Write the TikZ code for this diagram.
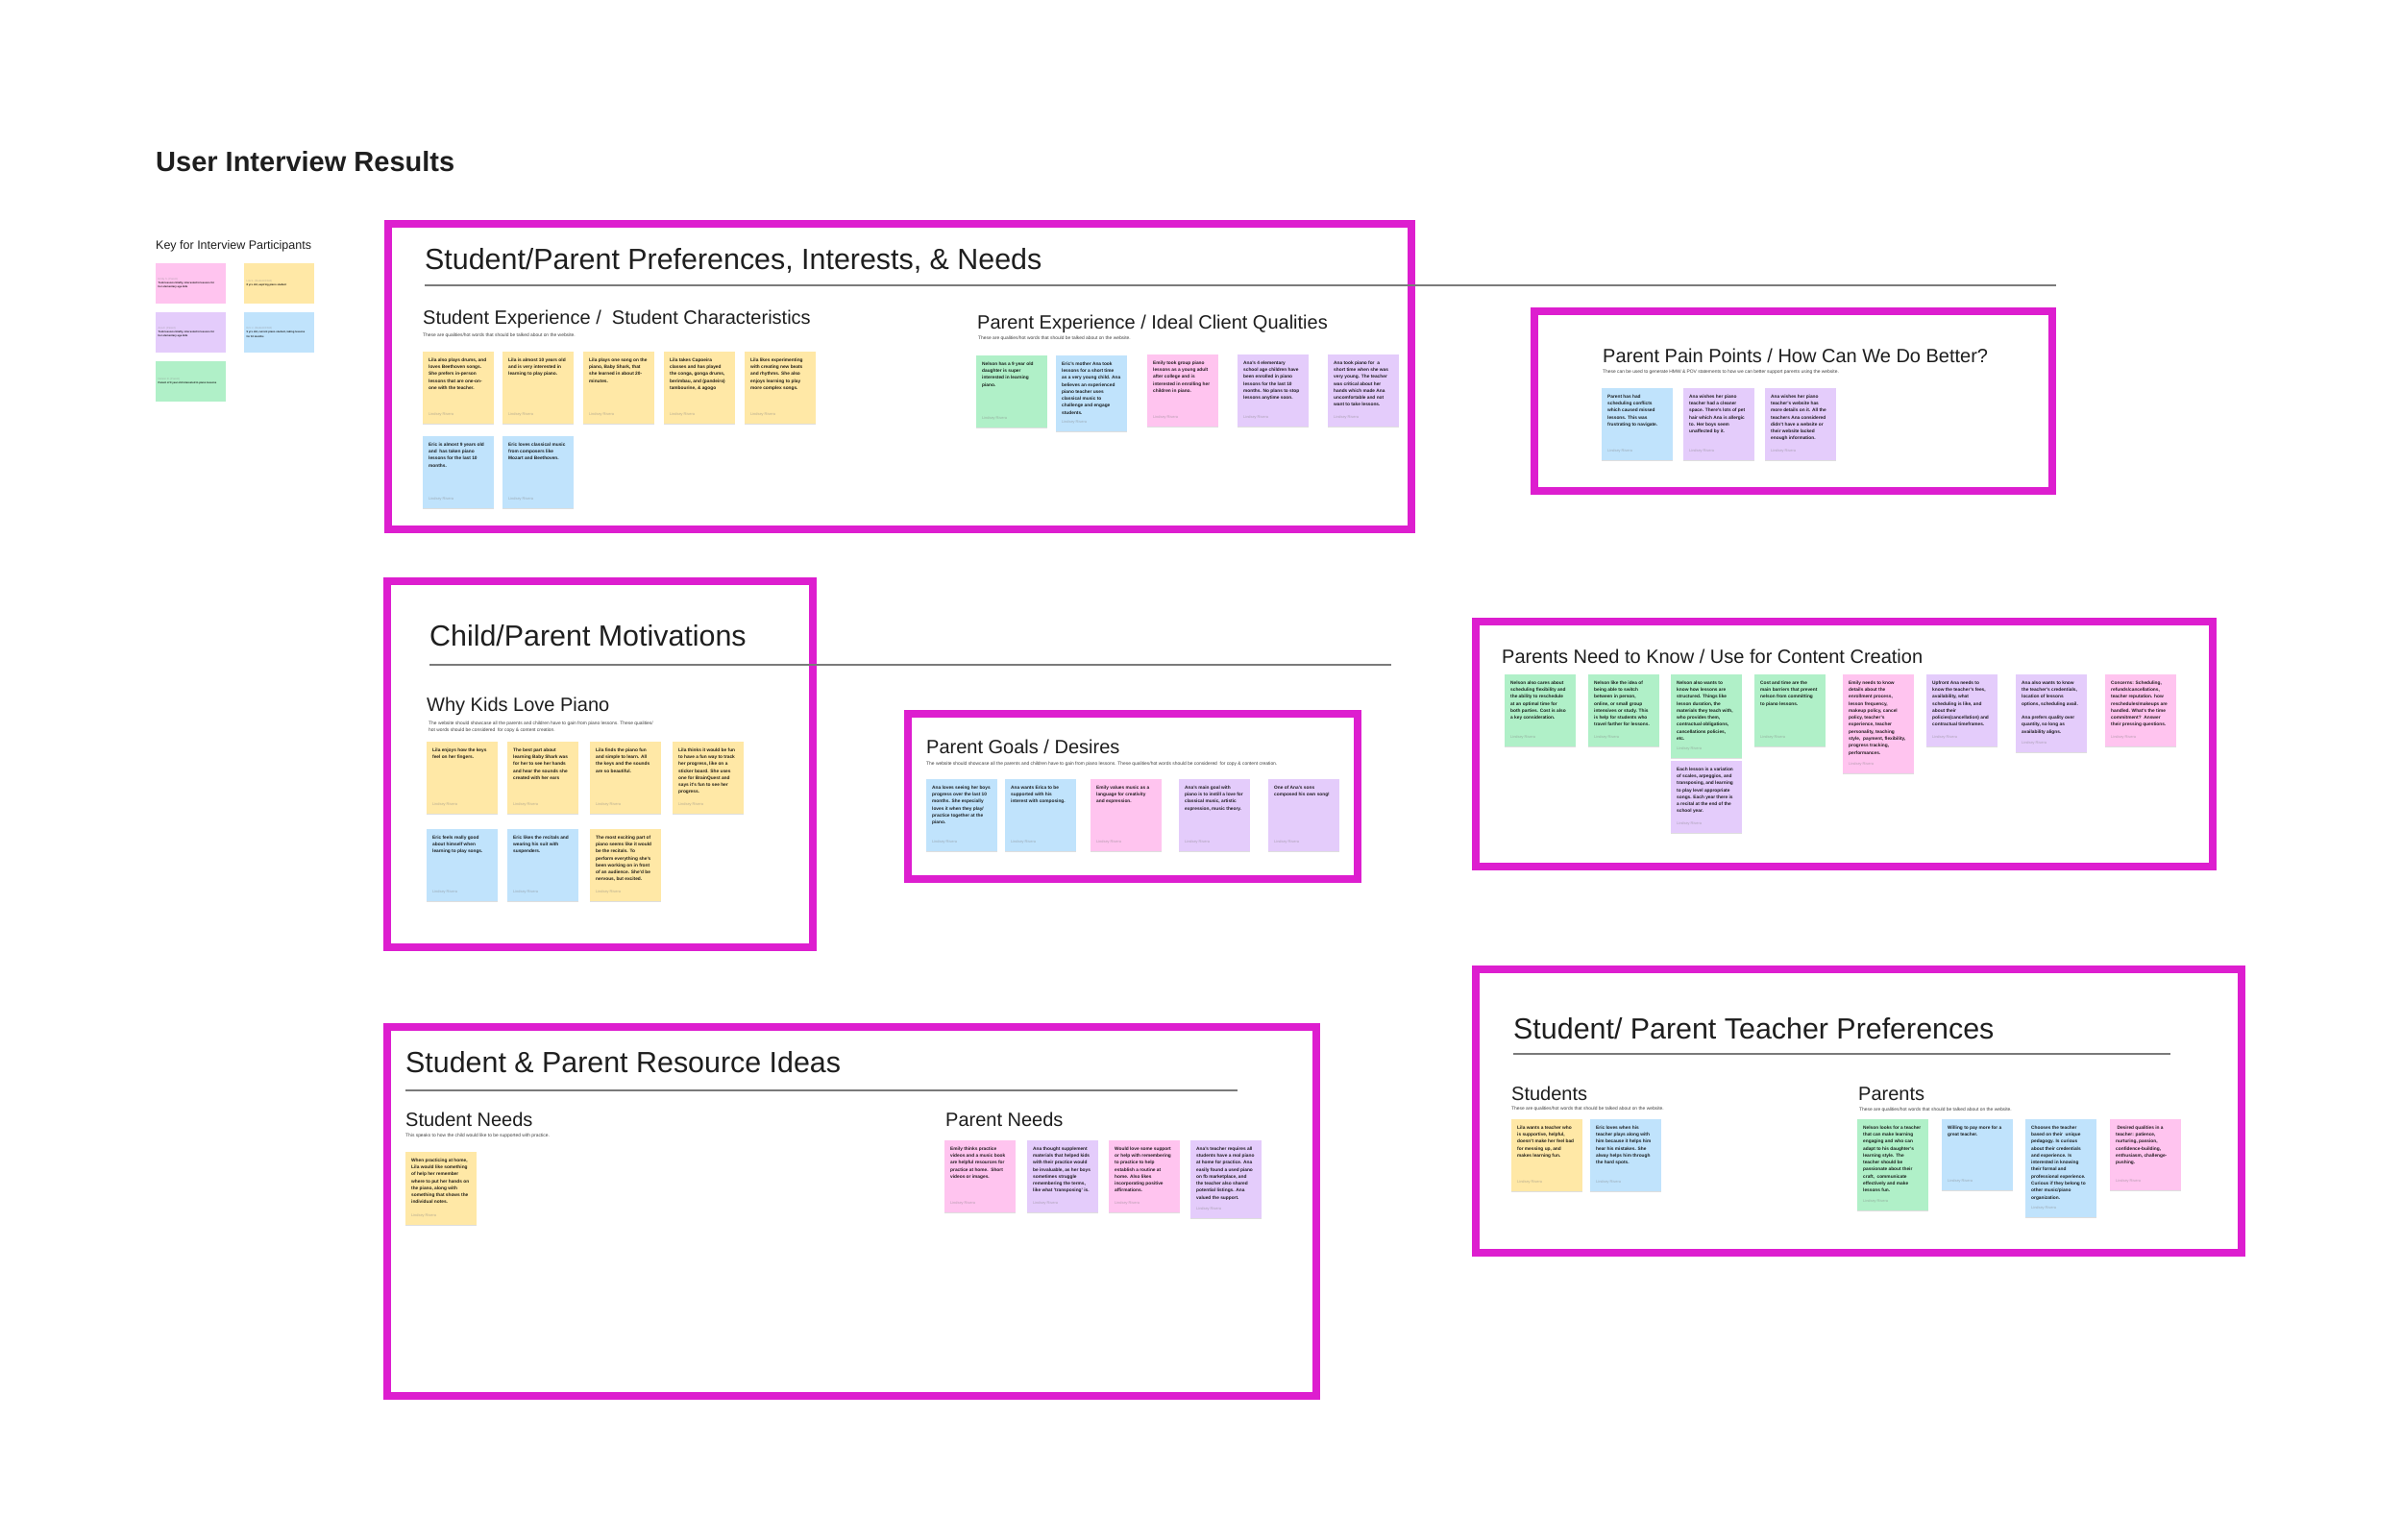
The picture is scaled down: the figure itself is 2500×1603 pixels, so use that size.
\documentclass[tikz,border=0pt]{standalone}
\usepackage{fontspec}
\setmainfont{Liberation Sans}
\usetikzlibrary{shadows}
\definecolor{mag}{HTML}{DD1ECF}
\definecolor{ink}{HTML}{1E1E1E}
\definecolor{rulec}{HTML}{7A7A7A}
\definecolor{ybg}{HTML}{FFE8A6}
\definecolor{bbg}{HTML}{C0E3FC}
\definecolor{pbg}{HTML}{FFC4EF}
\definecolor{ubg}{HTML}{E4CCFB}
\definecolor{gbg}{HTML}{B0F0C8}
\colorlet{yfg}{ybg!14!black}
\colorlet{bfg}{bbg!14!black}
\colorlet{pfg}{pbg!14!black}
\colorlet{ufg}{ubg!14!black}
\colorlet{gfg}{gbg!14!black}
\colorlet{yau}{ybg!45!gray}
\colorlet{bau}{bbg!45!gray}
\colorlet{pau}{pbg!45!gray}
\colorlet{uau}{ubg!45!gray}
\colorlet{gau}{gbg!45!gray}
\tikzset{
  frame/.style={draw=mag, line width=8},
  rulel/.style={draw=rulec, line width=1.6},
  bigttl/.style={font=\fontsize{29}{34}\selectfont\bfseries, anchor=base west, inner sep=0, text=ink},
  secttl/.style={font=\fontsize{30.4}{36}\selectfont, anchor=base west, inner sep=0, text=ink},
  subttl/.style={font=\fontsize{20}{24}\selectfont, anchor=base west, inner sep=0, text=ink},
  keyttl/.style={font=\fontsize{12.5}{15}\selectfont, anchor=base west, inner sep=0, text=ink},
  subtxt/.style={font=\fontsize{4.9}{6}\selectfont, anchor=base west, inner sep=0, text=ink!85},
  stickytxt/.style={font=\fontsize{4.8}{7.3}\selectfont\bfseries, align=left, inner sep=0},
  authortxt/.style={font=\fontsize{3.9}{5}\selectfont, inner sep=0},
  keytxt/.style={font=\fontsize{2.7}{4.2}\selectfont\bfseries, align=left, inner sep=0},
  stickyshadow/.style={drop shadow={shadow xshift=0pt, shadow yshift=-1.2pt, opacity=0.13, fill=black}}
}
% #1 name, #2 x, #3 y, #4 height, #5 colour letter, #6 text
\newcommand\sticky[6]{%
  \path[fill=#5bg, stickyshadow] (#2,#3) rectangle ++(74,#4);
  \node[stickytxt, text=#5fg, anchor=north west] (#1) at (#2+6,#3+6.5) {#6};
  \node[authortxt, text=#5au, anchor=base west] (#1a) at (#2+6,#3+#4-9) {Lindsey Rivera};
}
% #1 name, #2 x, #3 y, #4 colour letter, #5 who, #6 description
\newcommand\keynote[6]{%
  \path[fill=#4bg] (#2,#3) rectangle ++(73,42);
  \node[keytxt, text=#4fg, anchor=west] (#1) at (#2+2.5,#3+21) {{\color{#4au}\mdseries #5}\\#6};
}
\begin{document}
\begin{tikzpicture}[x=1pt,y=-1pt]
\useasboundingbox (0,0) rectangle (2500,1603);
\fill[white] (0,0) rectangle (2500,1603);

% ---------- title and key ----------
\node[bigttl] (title) at (162,178) {User Interview Results};
\node[keyttl] (keyt) at (162,259) {Key for Interview Participants};
\keynote{k1}{162}{274}{p}{Emily S. (Parent)}{Took lessons briefly, interested in lessons for\\her elementary age kids}
\keynote{k2}{254}{274}{y}{Lila S. (Student/Child)}{8 yrs old, aspiring piano student}
\keynote{k3}{162}{325}{u}{Ana F. (Parent)}{Took lessons briefly, interested in lessons for\\her elementary age kids}
\keynote{k4}{254}{325}{b}{Eric J. (Student/Child)}{9 yrs old, current piano student, taking lessons\\for 10 months}
\keynote{k5}{162}{376}{g}{Nelson R. (Parent)}{Parent of 9 year old interested in piano lessons}

% ---------- frames ----------
\draw[frame] (404,233) rectangle (1469,551);
\draw[frame] (1597,324) rectangle (2136,511);
\draw[frame] (403,605) rectangle (846,986);
\draw[frame] (945,743) rectangle (1413,915);
\draw[frame] (1536,647) rectangle (2303,902);
\draw[frame] (403,1069) rectangle (1370,1453);
\draw[frame] (1536,1009) rectangle (2333,1304);

% ---------- rules ----------
\draw[rulel] (442,297) -- (2140,297);
\draw[rulel] (447,692) -- (1448,692);
\draw[rulel] (422,1135) -- (1288,1135);
\draw[rulel] (1575,1097) -- (2259,1097);

% ---------- Box 1 ----------
\node[secttl] (t1) at (442,280) {Student/Parent Preferences, Interests, \& Needs};
\node[subttl] (t1a) at (440,337) {Student Experience /\ \ Student Characteristics};
\node[subtxt] (s1a) at (440,350) {These are qualities/hot words that should be talked about on the website.};
\sticky{a1}{440}{366}{75}{y}{Lila also plays drums, and\\loves Beethoven songs.\\She prefers in-person\\lessons that are one-on-\\one with the teacher.}
\sticky{a2}{523}{366}{75}{y}{Lila is almost 10 years old\\and is very interested in\\learning to play piano.}
\sticky{a3}{607}{366}{75}{y}{Lila plays one song on the\\piano, Baby Shark, that\\she learned in about 20-\\minutes.}
\sticky{a4}{691}{366}{75}{y}{Lila takes Capoeira\\classes and has played\\the conga, gonga drums,\\berimbau, and (pandeiro)\\tambourine, \& agogo}
\sticky{a5}{775}{366}{75}{y}{Lila likes experimenting\\with creating new beats\\and rhythms. She also\\enjoys learning to play\\more complex songs.}
\sticky{a6}{440}{454}{75}{b}{Eric is almost 9 years old\\and\ \ has taken piano\\lessons for the last 10\\months.}
\sticky{a7}{523}{454}{75}{b}{Eric loves classical music\\from composers like\\Mozart and Beethoven.}

\node[subttl] (t1b) at (1017,342) {Parent Experience / Ideal Client Qualities};
\node[subtxt] (s1b) at (1018,353) {These are qualities/hot words that should be talked about on the website.};
\sticky{b1}{1016}{370}{75}{g}{Nelson has a 9 year old\\daughter is super\\interested in learning\\piano.}
\sticky{b2}{1099}{370}{79}{b}{Eric's mother Ana took\\lessons for a short time\\as a very young child. Ana\\believes an experienced\\piano teacher uses\\classical music to\\challenge and engage\\students.}
\sticky{b3}{1194}{369}{75}{p}{Emily took group piano\\lessons as a young adult\\after college and is\\interested in enrolling her\\children in piano.}
\sticky{b4}{1288}{369}{75}{u}{Ana's 4 elementary\\school age children have\\been enrolled in piano\\lessons for the last 10\\months. No plans to stop\\lessons anytime soon.}
\sticky{b5}{1382}{369}{75}{u}{Ana took piano for\ \ a\\short time when she was\\very young. The teacher\\was critical about her\\hands which made Ana\\uncomfortable and not\\want to take lessons.}

% ---------- Pain points ----------
\node[subttl] (t2) at (1668,377) {Parent Pain Points / How Can We Do Better?};
\node[subtxt] (s2) at (1668,388) {These can be used to generate HMW \& POV statements to how we can better support parents using the website.};
\sticky{c1}{1667}{404}{75}{b}{Parent has had\\scheduling conflicts\\which caused missed\\lessons. This was\\frustrating to navigate.}
\sticky{c2}{1752}{404}{75}{u}{Ana wishes her piano\\teacher had a cleaner\\space. There's lots of pet\\hair which Ana is allergic\\to. Her boys seem\\unaffected by it.}
\sticky{c3}{1837}{404}{75}{u}{Ana wishes her piano\\teacher's website has\\more details on it. All the\\teachers Ana considered\\didn't have a website or\\their website lacked\\enough information.}

% ---------- Child/Parent Motivations ----------
\node[secttl] (t3) at (447,672) {Child/Parent Motivations};
\node[subttl] (t3a) at (444,740) {Why Kids Love Piano};
\node[subtxt] (s3a) at (446,754) {The website should showcase all the parents and children have to gain from piano lessons. These qualities/};
\node[subtxt] (s3b) at (446,761) {hot words should be considered\ \ for copy \& content creation.};
\sticky{d1}{444}{772}{75}{y}{Lila enjoys how the keys\\feel on her fingers.}
\sticky{d2}{528}{772}{75}{y}{The best part about\\learning Baby Shark was\\for her to see her hands\\and hear the sounds she\\created with her ears}
\sticky{d3}{614}{772}{75}{y}{Lila finds the piano fun\\and simple to learn. All\\the keys and the sounds\\are so beautiful.}
\sticky{d4}{700}{772}{75}{y}{Lila thinks it would be fun\\to have a fun way to track\\her progress, like on a\\sticker board. She uses\\one for BrainQuest and\\says it's fun to see her\\progress.}
\sticky{d5}{444}{863}{75}{b}{Eric feels really good\\about himself when\\learning to play songs.}
\sticky{d6}{528}{863}{75}{b}{Eric likes the recitals and\\wearing his suit with\\suspenders.}
\sticky{d7}{614}{863}{75}{y}{The most exciting part of\\piano seems like it would\\be the recitals. To\\perform everything she's\\been working on in front\\of an audience. She'd be\\nervous, but excited.}

% ---------- Parent Goals ----------
\node[subttl] (t4) at (964,784) {Parent Goals / Desires};
\node[subtxt] (s4) at (964,796) {The website should showcase all the parents and children have to gain from piano lessons. These qualities/hot words should be considered\ \ for copy \& content creation.};
\sticky{e1}{964}{811}{75}{b}{Ana loves seeing her boys\\progress over the last 10\\months. She especially\\loves it when they play/\\practice together at the\\piano.}
\sticky{e2}{1046}{811}{75}{b}{Ana wants Erica to be\\supported with his\\interest with composing.}
\sticky{e3}{1135}{811}{75}{p}{Emily values music as a\\language for creativity\\and expression.}
\sticky{e4}{1227}{811}{75}{u}{Ana's main goal with\\piano is to instill a love for\\classical music, artistic\\expression, music theory.}
\sticky{e5}{1320}{811}{75}{u}{One of Ana's sons\\composed his own song!}

% ---------- Parents Need to Know ----------
\node[subttl] (t5) at (1563,690) {Parents Need to Know / Use for Content Creation};
\sticky{f1}{1566}{702}{75}{g}{Nelson also cares about\\scheduling flexibility and\\the ability to reschedule\\at an optimal time for\\both parties. Cost is also\\a key consideration.}
\sticky{f2}{1653}{702}{75}{g}{Nelson like the idea of\\being able to switch\\between in person,\\online, or small group\\intensives or study. This\\is help for students who\\travel farther for lessons.}
\sticky{f3}{1739}{702}{87}{g}{Nelson also wants to\\know how lessons are\\structured. Things like\\lesson duration, the\\materials they teach with,\\who provides them,\\contractual obligations,\\cancellations policies,\\etc.}
\sticky{f4}{1739}{792}{75}{u}{Each lesson is a variation\\of scales, arpeggios, and\\transposing, and learning\\to play level appropriate\\songs. Each year there is\\a recital at the end of the\\school year.}
\sticky{f5}{1826}{702}{75}{g}{Cost and time are the\\main barriers that prevent\\nelson from committing\\to piano lessons.}
\sticky{f6}{1918}{702}{103}{p}{Emily needs to know\\details about the\\enrollment process,\\lesson frequency,\\makeup policy, cancel\\policy, teacher's\\experience, teacher\\personality, teaching\\style,\ \ payment, flexibility,\\progress tracking,\\performances.}
\sticky{f7}{2005}{702}{75}{u}{Upfront Ana needs to\\know the teacher's fees,\\availability, what\\scheduling is like, and\\about their\\policies(cancellation) and\\contractual timeframes.}
\sticky{f8}{2098}{702}{81}{u}{Ana also wants to know\\the teacher's credentials,\\location of lessons\\options, scheduling avail.\\[7.3pt]Ana prefers quality over\\quantity, so long as\\availability aligns.}
\sticky{f9}{2191}{702}{75}{p}{Concerns: Scheduling,\\refunds/cancellations,\\teacher reputation. how\\reschedules/makeups are\\handled. What's the time\\commitment?\ \ Answer\\their pressing questions.}

% ---------- Resource Ideas ----------
\node[secttl] (t6) at (422,1116) {Student \& Parent Resource Ideas};
\node[subttl] (t6a) at (422,1172) {Student Needs};
\node[subtxt] (s6a) at (422,1183) {This speaks to how the child would like to be supported with practice.};
\sticky{g1}{422}{1199}{76}{y}{When practicing at home,\\Lila would like something\\of help her remember\\where to put her hands on\\the piano, along with\\something that shows the\\individual notes.}
\node[subttl] (t6b) at (984,1172) {Parent Needs};
\sticky{h1}{983}{1187}{75}{p}{Emily thinks practice\\videos and a music book\\are helpful resources for\\practice at home.\ \ Short\\videos or images.}
\sticky{h2}{1069}{1187}{75}{u}{Ana thought supplement\\materials that helped kids\\with their practice would\\be invaluable, as her boys\\sometimes struggle\\remembering the terms,\\like what 'transposing' is.}
\sticky{h3}{1154}{1187}{75}{p}{Would love some support\\or help with remembering\\to practice to help\\establish a routine at\\home. Also likes\\incorporating positive\\affirmations.}
\sticky{h4}{1239}{1187}{81}{u}{Ana's teacher requires all\\students have a real piano\\at home for practice. Ana\\easily found a used piano\\on fb marketplace, and\\the teacher also shared\\potential listings. Ana\\valued the support.}

% ---------- Teacher Preferences ----------
\node[secttl] (t7) at (1575,1081) {Student/ Parent Teacher Preferences};
\node[subttl] (t7a) at (1573,1145) {Students};
\node[subtxt] (s7a) at (1573,1155) {These are qualities/hot words that should be talked about on the website.};
\sticky{i1}{1573}{1165}{75}{y}{Lila wants a teacher who\\is supportive, helpful,\\doesn't make her feel bad\\for messing up, and\\makes learning fun.}
\sticky{i2}{1655}{1165}{75}{b}{Eric loves when his\\teacher plays along with\\him because it helps him\\hear his mistakes. She\\alway helps him through\\the hard spots.}
\node[subttl] (t7b) at (1934,1145) {Parents};
\node[subtxt] (s7b) at (1935,1156) {These are qualities/hot words that should be talked about on the website.};
\sticky{j1}{1933}{1165}{95}{g}{Nelson looks for a teacher\\that can make learning\\engaging and who can\\adapt to his daughter's\\learning style. The\\teacher should be\\passionate about their\\craft,\ \ communicate\\effectively and make\\lessons fun.}
\sticky{j2}{2021}{1165}{74}{b}{Willing to pay more for a\\great teacher.}
\sticky{j3}{2108}{1165}{102}{b}{Chooses the teacher\\based on their\ \ unique\\pedagogy. Is curious\\about their credentials\\and experience. Is\\interested in knowing\\their formal and\\professional experience.\\Curious if they belong to\\other music/piano\\organization.}
\sticky{j4}{2196}{1165}{74}{p}{\ Desired qualities in a\\teacher: patience,\\nurturing, passion,\\confidence-building,\\enthusiasm, challenge-\\pushing.}
\end{tikzpicture}
\end{document}
